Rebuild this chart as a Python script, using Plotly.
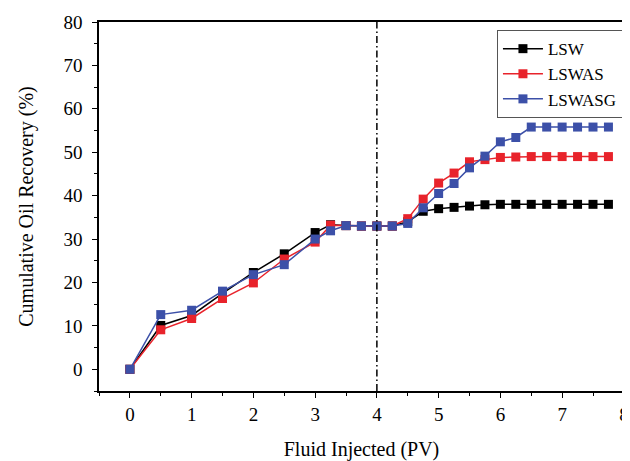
import plotly.graph_objects as go

fluid_pv = [0, 0.5, 1, 1.5, 2, 2.5, 3, 3.25, 3.5, 3.75, 4, 4.25, 4.5, 4.75,
            5, 5.25, 5.5, 5.75, 6, 6.25, 6.5, 6.75, 7, 7.25, 7.5, 7.75]
lsw = [0, 10.1, 12.4, 17.5, 22.3, 26.6, 31.5, 33.3, 33.1, 33.0, 33.0, 33.0, 34.0, 36.4,
       37.0, 37.3, 37.6, 37.9, 38.0, 38.0, 38.0, 38.0, 38.0, 38.0, 38.0, 38.0]
lswas = [0, 9.1, 11.7, 16.3, 19.9, 25.4, 29.3, 33.2, 33.1, 33.0, 33.0, 33.0, 34.7, 39.2,
         42.9, 45.2, 47.8, 48.3, 48.8, 48.9, 49.0, 49.0, 49.0, 49.0, 49.0, 49.0]
lswasg = [0, 12.6, 13.6, 18.0, 21.8, 24.1, 30.0, 31.9, 33.1, 33.0, 33.0, 33.0, 33.6, 37.2,
          40.5, 42.8, 46.4, 49.1, 52.4, 53.4, 55.8, 55.8, 55.8, 55.8, 55.8, 55.8]
divider_pv = 4

series = [("LSW", lsw, "#000000"), ("LSWAS", lswas, "#e8232b"), ("LSWASG", lswasg, "#3c50a8")]

FONT = "Liberation Serif"
fig = go.Figure()
for name, vals, col in series:
    fig.add_trace(go.Scatter(
        x=fluid_pv, y=vals, name=name, mode="lines+markers",
        line=dict(color=col, width=1.5),
        marker=dict(symbol="square", size=9, color=col, line=dict(width=0)),
    ))

fig.add_shape(type="line", x0=divider_pv, x1=divider_pv, y0=0, y1=1, xref="x", yref="paper",
              line=dict(color="#000000", width=1.5, dash="7px,3px,1.5px,3px"))

axis_common = dict(
    showline=True, linecolor="black", linewidth=1.5, mirror=True,
    ticks="outside", ticklen=5, tickwidth=1.2, tickcolor="black",
    showgrid=False, zeroline=False, automargin=False,
    tickfont=dict(family=FONT, size=19, color="black"),
)
fig.update_xaxes(range=[-0.5, 8.002], dtick=1, tick0=0,
                 minor=dict(ticks="outside", ticklen=3, dtick=0.5, tick0=0, tickcolor="black", tickwidth=1.2),
                 title=dict(text="Fluid Injected (PV)", font=dict(family=FONT, size=20, color="black"), standoff=27),
                 **axis_common)
fig.update_yaxes(range=[-5, 80], dtick=10, tick0=0, ticklabelstandoff=6,
                 minor=dict(ticks="outside", ticklen=3, dtick=5, tick0=0, tickcolor="black", tickwidth=1.2),
                 title=dict(text="Cumulative Oil Recovery (%)", font=dict(family=FONT, size=20, color="black"), standoff=24),
                 **axis_common)

fig.update_layout(
    width=622, height=453,
    margin=dict(l=91, r=6, t=14, b=70),
    paper_bgcolor="white", plot_bgcolor="white",
    legend=dict(x=0.998, y=0.978, xanchor="right", yanchor="top",
                bgcolor="white", bordercolor="#555555", borderwidth=1,
                font=dict(family=FONT, size=17, color="black"),
                tracegroupgap=0, itemwidth=40),
    showlegend=True,
)

fig.write_html("out.html")
